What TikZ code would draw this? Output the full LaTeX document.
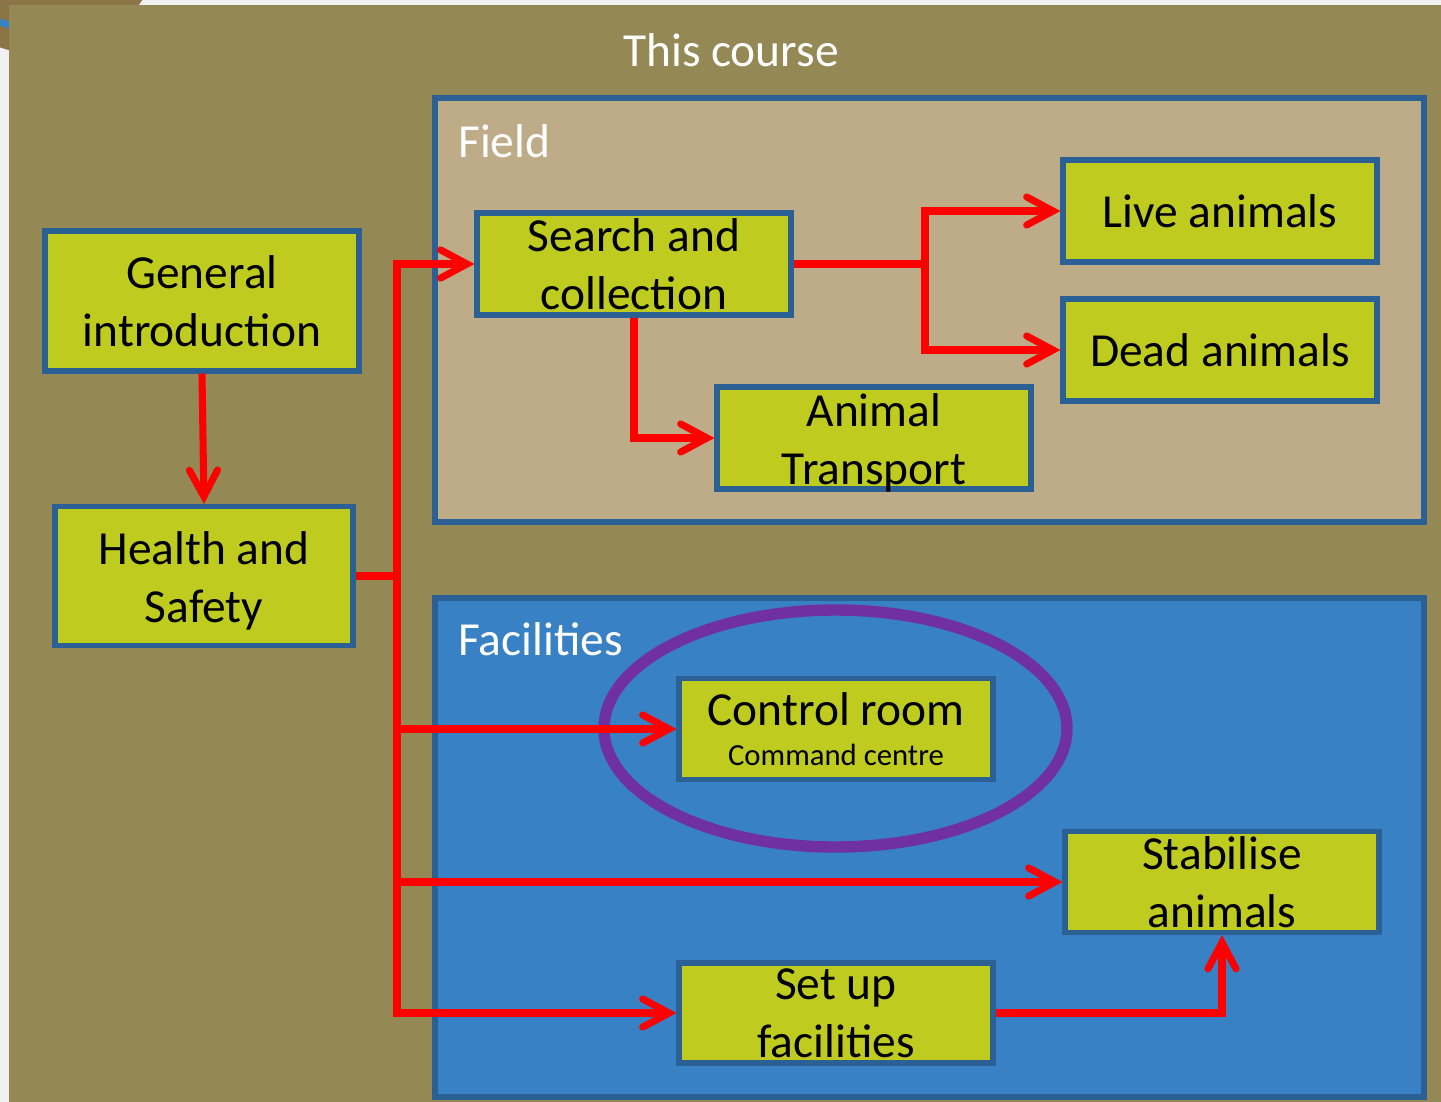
\documentclass[tikz,border=0pt]{standalone}
\usepackage{fontspec}
\setmainfont{Carlito}
\usetikzlibrary{arrows.meta}
\usetikzlibrary{shapes.geometric}

\definecolor{pagegray}{RGB}{240,240,240}
\definecolor{courseolive}{RGB}{148,137,84}
\definecolor{fieldtan}{RGB}{190,171,135}
\definecolor{facilblue}{RGB}{56,129,196}
\definecolor{edgeblue}{RGB}{43,96,148}
\definecolor{stepgreen}{RGB}{191,204,31}
\definecolor{ringpurple}{RGB}{112,48,160}
\definecolor{blobbrown}{RGB}{139,116,72}

\newcommand{\bigtxt}{\fontsize{27pt}{33pt}\selectfont}
\newcommand{\smalltxt}{\fontsize{17.5pt}{21pt}\selectfont}

\begin{document}
\begin{tikzpicture}[x=0.02cm, y=-0.02cm,
	group box/.style={draw=edgeblue, line width=2.9pt},
	group label/.style={anchor=base west, text=white, font=\bigtxt, inner sep=0pt},
	course node/.style={draw=edgeblue, fill=stepgreen, line width=2.9pt, align=center,
		font=\bigtxt, inner sep=0pt, minimum width=6.28cm, minimum height=2.04cm},
	low text/.style={label={[font=\bigtxt, align=center, yshift=-2.8pt]center:{#1}}},
	flow/.style={draw=red, line width=4pt,
		-{Straight Barb[length=15pt, width=16pt, line cap=round]}}]
	
	\useasboundingbox (0,0) rectangle (1441,1102);
	\fill[pagegray] (0,0) rectangle (1441,1102);
	\begin{scope}
		\clip (0,0) rectangle (1441,1102);
		\fill[blobbrown] (40,-70) circle (124);
		\draw[facilblue, line width=4pt] (0,22) -- (12,26);
	\end{scope}
	\fill[courseolive] (9,5) rectangle (1441,1102);
	\node[text=white, font=\bigtxt] (Title) at (731,50) {This course};
	
	% Field and Facilities areas
	\draw[group box, fill=fieldtan] (435,98) rectangle (1424,522);
	\node[group label] (FieldLbl) at (458,157) {Field};
	\draw[group box, fill=facilblue] (435,598) rectangle (1424,1097);
	\node[group label] (FacilLbl) at (458,655) {Facilities};
	
	% steps
	\node[course node, minimum height=2.8cm] (GenIntro) at (202,301) {General\\introduction};
	\node[course node, minimum width=5.96cm, minimum height=2.78cm,
		low text={Health and\\Safety}] (HealthSafety) at (204,576) {};
	\node[course node] (Search) at (634,264) {Search and\\collection};
	\node[course node] (Live) at (1220,211) {Live animals};
	\node[course node] (Dead) at (1220,350) {Dead animals};
	\node[course node, low text={Animal\\Transport}] (Transport) at (874,438) {};
	\node[course node, minimum height=2.02cm] (Control) at (836,729) {\raisebox{-4pt}{Control room}\\[-6pt]{\smalltxt Command centre}};
	\node[course node, minimum height=2.02cm] (Stabilise) at (1222,882) {Stabilise\\animals};
	\node[course node, minimum height=2.0cm] (SetUp) at (836,1013) {Set up\\facilities};
	
	\draw[ringpurple, line width=6.5pt] (835.5,728.5) ellipse (231.5 and 118.5);
	
	% connectors
	\coordinate (Trunk) at (397,576);
	\coordinate (Fork) at (925,264);
	\draw[flow] (GenIntro.south) -- (HealthSafety.north);
	\draw[flow] (HealthSafety.east) -- (Trunk) |- (Search.west);
	\draw[flow] (Trunk) |- (Control.west);
	\draw[flow] (Trunk) |- (Stabilise.west);
	\draw[flow] (Trunk) |- (SetUp.west);
	\draw[flow] (Search.east) -- (Fork) |- (Live.west);
	\draw[flow] (Fork) |- (Dead.west);
	\draw[flow] (Search.south) |- (Transport.west);
	\draw[flow] (SetUp.east) -| (Stabilise.south);
\end{tikzpicture}
\end{document}
